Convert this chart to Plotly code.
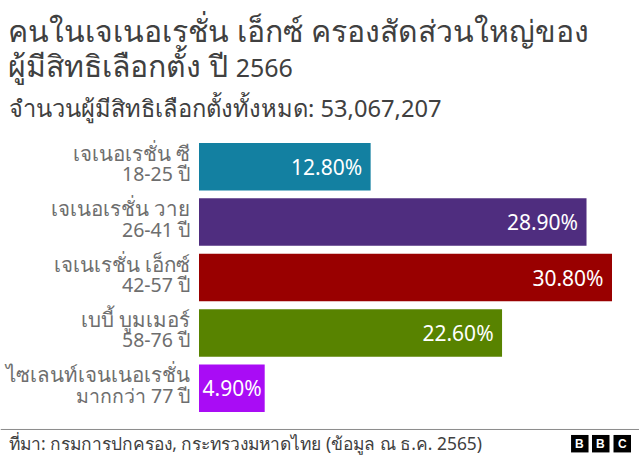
import plotly.graph_objects as go

generations = ["เจเนอเรชั่น ซี", "เจเนอเรชั่น วาย", "เจเนเรชั่น เอ็กซ์", "เบบี้ บูมเมอร์", "ไซเลนท์เจนเนอเรชั่น"]
ages = ["18-25 ปี", "26-41 ปี", "42-57 ปี", "58-76 ปี", "มากกว่า 77 ปี"]
shares = [12.8, 28.9, 30.8, 22.6, 4.9]
colors = ["#1380a1", "#4f2d7f", "#990000", "#588300", "#a90cf5"]
title1 = "คนในเจเนอเรชั่น เอ็กซ์ ครองสัดส่วนใหญ่ของ"
title2 = "ผู้มีสิทธิเลือกตั้ง ปี <span style=\"font-size:25px\">2566</span>"
subtitle = "จำนวนผู้มีสิทธิเลือกตั้งทั้งหมด: 53,067,207"
source = "ที่มา: กรมการปกครอง, กระทรวงมหาดไทย (ข้อมูล ณ ธ.ค. 2565)"
FONT = "Noto Sans, sans-serif"
W, H = 640, 459
L, R, T, B = 198.5, 28, 138.5, 43

def cx(p): return (p - L) / (W - L - R)
def cy(p): return 1 - (p - T) / (H - T - B)

fig = go.Figure(go.Bar(
    x=shares, y=generations, orientation="h", width=0.857,
    marker=dict(color=colors, line=dict(width=0)),
    text=[f"{v:.2f}%" + ("\u00a0" if v > 6 else "") for v in shares], textposition="inside",
    insidetextanchor="end", textangle=0, constraintext="none",
    textfont=dict(color="white", size=21, family=FONT),
    hoverinfo="skip",
))
fig.update_layout(
    width=W, height=H, autosize=False, showlegend=False,
    paper_bgcolor="white", plot_bgcolor="white", font=dict(family=FONT),
    margin=dict(l=L, r=R, t=T, b=B, pad=0),
    bargap=0.143,
    xaxis=dict(range=[0, 30.8], visible=False, fixedrange=True),
    yaxis=dict(range=[4.5, -0.5], autorange=False, type="category", showticklabels=False, showline=False,
               showgrid=False, ticks="", fixedrange=True),
)
for g, a in zip(generations, ages):
    fig.add_annotation(text=g, xref="paper", yref="y", x=cx(191), y=g, yshift=14, xanchor="right", yanchor="middle",
                       showarrow=False, font=dict(size=20.5, color="#6e6e6e", family=FONT))
    fig.add_annotation(text=a, xref="paper", yref="y", x=cx(191), y=g, yshift=-7, xanchor="right", yanchor="middle",
                       showarrow=False, font=dict(size=19.5, color="#6e6e6e", family=FONT))
for text, xp, yp, size in [(title1, 5, 30, 30.2), (title2, 5, 65, 30.2), (subtitle, 6, 107, 23.7), (source, 6, 443, 17.4)]:
    fig.add_annotation(text=text, xref="paper", yref="paper", x=cx(xp), y=cy(yp), xanchor="left", yanchor="middle",
                       showarrow=False, font=dict(size=size, color="#404040", family=FONT))
fig.add_shape(type="line", xref="paper", yref="paper", x0=cx(0), x1=cx(639), y0=cy(429.5), y1=cy(429.5),
              line=dict(color="#8a8a8a", width=1))
for x0, letter in zip([571, 592, 613.5], "BBC"):
    fig.add_shape(type="rect", xref="paper", yref="paper", x0=cx(x0), x1=cx(x0 + 17.5), y0=cy(435), y1=cy(452.5),
                  fillcolor="black", line=dict(width=0))
    fig.add_annotation(text=f"<b>{letter}</b>", xref="paper", yref="paper", x=cx(x0 + 8.75), y=cy(443.75),
                       xanchor="center", yanchor="middle", showarrow=False,
                       font=dict(size=12, color="white", family="Liberation Sans"))
fig.write_html("out.html", config={"displayModeBar": False},
               post_script="document.body.style.margin='0';document.documentElement.style.overflow='hidden';")
